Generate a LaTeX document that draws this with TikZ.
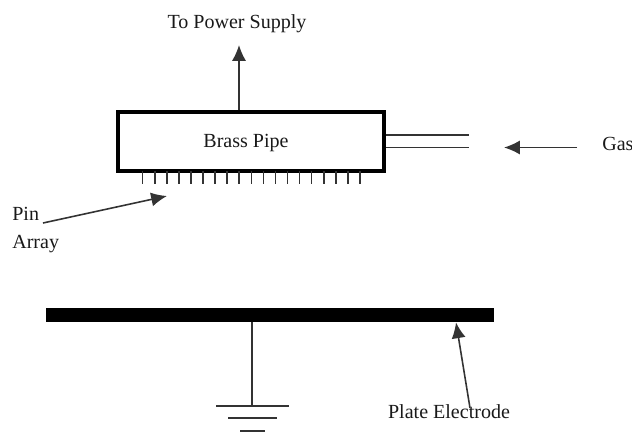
\documentclass[tikz,border=0pt]{standalone}
\usepackage{fontspec}
\setmainfont{Liberation Serif}
\usetikzlibrary{positioning,arrows.meta}

\begin{document}
\begin{tikzpicture}[
  x=0.02cm, y=-0.02cm,
  lbl/.style={font=\fontsize{11.4}{13}\selectfont, inner sep=0pt, text=black!90},
  wire/.style={line width=0.9pt, black!80},
  pointer/.style={wire, -{Latex[length=9pt,width=8pt]}},
  pipe/.style={draw, line width=2pt, minimum width=5.32cm, minimum height=1.18cm, inner sep=0pt},
  plate/.style={fill=black, minimum width=8.96cm, minimum height=0.28cm, inner sep=0pt}
]
\useasboundingbox (0,0) rectangle (632,433);

% --- Pipe ---
\node[pipe] (pipe) at (251,141.5) {};
\node[lbl] (pipelbl) at (246,143) {Brass Pipe};
\node[lbl] (supply) at (237,24) {To Power Supply};
\draw[pointer] (pipe.north -| 239,0) -- (239,45) coordinate (supplyend);

% --- Pins ---
\foreach \i in {0,...,18} {
  \draw[wire] (142.7+12.07*\i,171) -- (142.7+12.07*\i,184);
}

% --- Gas inlet ---
\coordinate (gasa) at (469,135);
\coordinate (gasb) at (469,147.5);
\draw[wire] (pipe.east |- gasa) -- (gasa);
\draw[wire] (pipe.east |- gasb) -- (gasb);
\node[lbl, anchor=west] (gas) at (602,144) {Gas};
\coordinate (gastip) at (504,147.5);
\coordinate (gastail) at (577,147.5);
\draw[pointer] (gastail) -- (gastip);

% --- Pin array label ---
\node[lbl, anchor=west] (pin) at (12,214) {Pin};
\node[lbl, anchor=west] (array) at (12,244) {Array};
\coordinate (pintail) at (43,223);
\coordinate (pintip) at (167,196);
\draw[pointer] (pintail) -- (pintip);

% --- Plate ---
\node[plate] (elec) at (270,315) {};
\coordinate (gnd) at (252,406);
\draw[wire] (elec.south -| gnd) -- (gnd);
\draw[wire] (216,406) -- (289,406);
\draw[wire] (228,418) -- (277,418);
\draw[wire] (240,431) -- (265,431);
\node[lbl] (platelbl) at (449,412) {Plate Electrode};
\coordinate (platetail) at (470,408);
\draw[pointer] (platetail) -- (elec.south -| 456,0);

\end{tikzpicture}
\end{document}
